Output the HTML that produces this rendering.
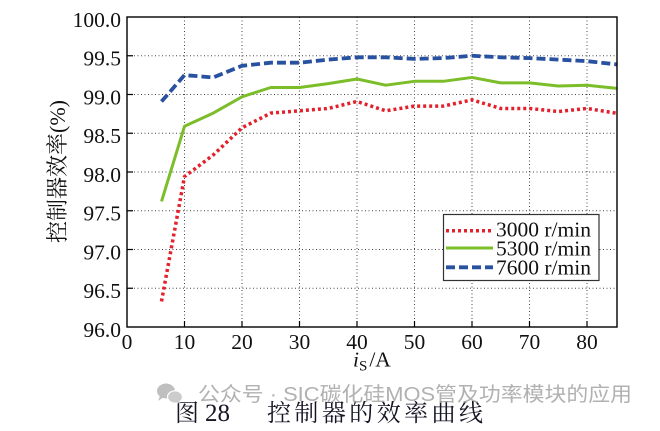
<!DOCTYPE html>
<html><head><meta charset="utf-8"><style>
html,body{margin:0;padding:0;background:#fff;}
svg{display:block;}
</style></head><body>
<svg width="660" height="431" viewBox="0 0 660 431" xmlns="http://www.w3.org/2000/svg">
<rect width="660" height="431" fill="#fff"/>
<defs><clipPath id="pc"><rect x="127" y="17" width="490" height="310"/></clipPath></defs>
<!-- grid -->
<g stroke="#444" stroke-width="1" stroke-dasharray="1 2.5" fill="none">
<line x1="184.5" y1="17" x2="184.5" y2="327"/>
<line x1="242" y1="17" x2="242" y2="327"/>
<line x1="299.5" y1="17" x2="299.5" y2="327"/>
<line x1="357" y1="17" x2="357" y2="327"/>
<line x1="414.5" y1="17" x2="414.5" y2="327"/>
<line x1="472" y1="17" x2="472" y2="327"/>
<line x1="529.5" y1="17" x2="529.5" y2="327"/>
<line x1="587" y1="17" x2="587" y2="327"/>
<line x1="127" y1="55.75" x2="617" y2="55.75"/>
<line x1="127" y1="94.5" x2="617" y2="94.5"/>
<line x1="127" y1="133.25" x2="617" y2="133.25"/>
<line x1="127" y1="172" x2="617" y2="172"/>
<line x1="127" y1="210.75" x2="617" y2="210.75"/>
<line x1="127" y1="249.5" x2="617" y2="249.5"/>
<line x1="127" y1="288.25" x2="617" y2="288.25"/>
</g>
<!-- ticks -->
<g stroke="#000" stroke-width="1.2">
<line x1="184.5" y1="327" x2="184.5" y2="321"/>
<line x1="242" y1="327" x2="242" y2="321"/>
<line x1="299.5" y1="327" x2="299.5" y2="321"/>
<line x1="357" y1="327" x2="357" y2="321"/>
<line x1="414.5" y1="327" x2="414.5" y2="321"/>
<line x1="472" y1="327" x2="472" y2="321"/>
<line x1="529.5" y1="327" x2="529.5" y2="321"/>
<line x1="587" y1="327" x2="587" y2="321"/>
<line x1="127" y1="55.75" x2="133" y2="55.75"/>
<line x1="127" y1="94.5" x2="133" y2="94.5"/>
<line x1="127" y1="133.25" x2="133" y2="133.25"/>
<line x1="127" y1="172" x2="133" y2="172"/>
<line x1="127" y1="210.75" x2="133" y2="210.75"/>
<line x1="127" y1="249.5" x2="133" y2="249.5"/>
<line x1="127" y1="288.25" x2="133" y2="288.25"/>
</g>
<!-- series -->
<g clip-path="url(#pc)" fill="none" stroke-linejoin="round">
<polyline stroke="#e3202b" stroke-width="3.5" stroke-dasharray="3 3" points="161.5,301.4 184.5,176.65 213.25,154.95 242,127.8 270.75,113.1 299.5,110.8 328.25,108.45 357,101.5 385.75,110.8 414.5,106.1 443.25,106.1 472,99.9 500.75,108.45 529.5,108.45 558.25,111.55 587,108.45 615.75,113.1 620,113.5"/>
<polyline stroke="#7cbd2a" stroke-width="3" points="161.5,201.45 184.5,126.3 213.25,113.1 242,96.8 270.75,87.5 299.5,87.5 328.25,83.65 357,79 385.75,85.2 414.5,81.3 443.25,81.3 472,77.45 500.75,82.9 529.5,82.9 558.25,86 587,85.2 615.75,88.3 620,88.6"/>
<polyline stroke="#2851a0" stroke-width="3.8" stroke-dasharray="9 4" points="161.5,101.5 184.5,75.1 213.25,77.45 242,65.8 270.75,62.7 299.5,62.7 328.25,59.6 357,57.3 385.75,57.3 414.5,58.85 443.25,58.1 472,55.75 500.75,57.3 529.5,58.1 558.25,59.6 587,61.15 615.75,64.3 620,64.8"/>
</g>
<!-- axes box -->
<rect x="127" y="17" width="490" height="310" fill="none" stroke="#000" stroke-width="1.4"/>
<!-- y tick labels -->
<g font-family="'Liberation Serif', serif" font-size="21.5" fill="#111" text-anchor="end">
<text x="121" y="27">100.0</text>
<text x="121" y="65.5">99.5</text>
<text x="121" y="104.3">99.0</text>
<text x="121" y="143">98.5</text>
<text x="121" y="181.8">98.0</text>
<text x="121" y="220.5">97.5</text>
<text x="121" y="259.3">97.0</text>
<text x="121" y="298">96.5</text>
<text x="121" y="336.8">96.0</text>
</g>
<!-- x tick labels -->
<g font-family="'Liberation Serif', serif" font-size="21.5" fill="#111" text-anchor="middle">
<text x="127" y="349">0</text>
<text x="184.5" y="349">10</text>
<text x="242" y="349">20</text>
<text x="299.5" y="349">30</text>
<text x="357" y="349">40</text>
<text x="414.5" y="349">50</text>
<text x="472" y="349">60</text>
<text x="529.5" y="349">70</text>
<text x="587" y="349">80</text>
</g>
<!-- x label -->
<text font-family="'Liberation Serif', serif" font-size="21.5" fill="#111" y="366.5"><tspan x="353" font-style="italic">i</tspan><tspan font-size="15" dy="4">S</tspan><tspan dy="-4" dx="2">/A</tspan></text>
<!-- y label -->
<text transform="translate(65,243) rotate(-90)" font-family="'Liberation Serif', 'Noto Serif CJK SC', serif" font-size="22" fill="#111" textLength="143" lengthAdjust="spacingAndGlyphs">控制器效率(%)</text>
<!-- legend -->
<rect x="443.5" y="214.5" width="155.5" height="66" fill="#fff" stroke="#333" stroke-width="1.2"/>
<line x1="446" y1="230.7" x2="493" y2="230.7" stroke="#e3202b" stroke-width="3.5" stroke-dasharray="3 3"/>
<line x1="446" y1="248" x2="493" y2="248" stroke="#7cbd2a" stroke-width="3"/>
<line x1="446" y1="267.3" x2="493" y2="267.3" stroke="#2851a0" stroke-width="3.8" stroke-dasharray="9 4"/>
<g font-family="'Liberation Serif', serif" font-size="21.5" fill="#111">
<text x="496" y="236.5">3000 r/min</text>
<text x="496" y="255.5">5300 r/min</text>
<text x="496" y="274.7">7600 r/min</text>
</g>
<!-- caption -->
<g font-family="'Liberation Serif', 'Noto Serif CJK SC', serif" font-size="24" fill="#151525">
<text x="175" y="421">图</text>
<text x="205" y="421" font-size="25">28</text>
<text x="267" y="421" textLength="216" lengthAdjust="spacing">控制器的效率曲线</text>
</g>
<!-- watermark -->
<g fill="#b5b5b5" opacity="0.85">
<ellipse cx="166" cy="391" rx="9" ry="7.5"/>
<path d="M160 396 L158 401 L164 397 Z"/>
<ellipse cx="175" cy="397" rx="7.5" ry="6.2" fill="#c4c4c4" stroke="#fff" stroke-width="1.2"/>
<path d="M178 401 L181 404 L176 402 Z" fill="#c4c4c4"/>
</g>
<text x="198" y="401" font-family="'Liberation Sans', 'Noto Sans CJK SC', sans-serif" font-size="20" fill="#a8a8a8" fill-opacity="0.9" textLength="434" lengthAdjust="spacingAndGlyphs">公众号 · SIC碳化硅MOS管及功率模块的应用</text>
</svg>
</body></html>
